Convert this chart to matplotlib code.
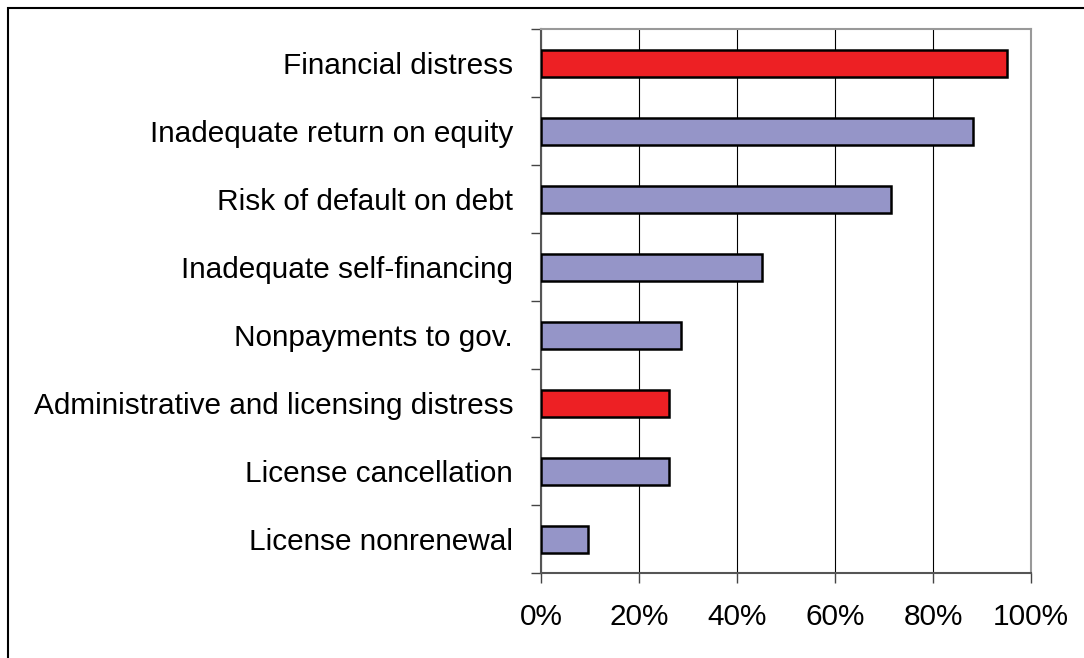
import matplotlib.pyplot as plt
from matplotlib.patches import Rectangle
from matplotlib.ticker import FixedLocator, PercentFormatter

plt.rcParams["font.family"] = ["Liberation Sans", "DejaVu Sans"]

# データ（上から順）
labels = [
    "Financial distress",
    "Inadequate return on equity",
    "Risk of default on debt",
    "Inadequate self-financing",
    "Nonpayments to gov.",
    "Administrative and licensing distress",
    "License cancellation",
    "License nonrenewal",
]
values = [95.2, 88.1, 71.4, 45.2, 28.6, 26.2, 26.2, 9.6]
is_group = [True, False, False, False, False, True, False, False]

red = "#ED2024"
blue = "#9595C8"

fig = plt.figure(figsize=(10.84, 6.58), dpi=100)
ax = fig.add_axes([541 / 1084, 1 - 573.3 / 658, 490 / 1084, 544 / 658])

n = len(labels)
ypos = [n - 1 - i for i in range(n)]
colors = [red if g else blue for g in is_group]
ax.barh(ypos, values, height=0.4, color=colors, edgecolor="black", linewidth=1.8, zorder=3)

ax.set_xlim(0, 100)
ax.set_ylim(-0.5, n - 0.5)
ax.set_xticks(range(0, 101, 20))
ax.xaxis.set_major_formatter(PercentFormatter(decimals=0))
ax.grid(axis="x", color="black", linewidth=0.8, zorder=0)

ax.set_yticks(ypos)
ax.set_yticklabels(labels)
ax.yaxis.set_minor_locator(FixedLocator([k + 0.5 for k in range(-1, n)]))
ax.tick_params(axis="y", which="major", length=0, pad=20, labelsize=21.4)
ax.tick_params(axis="y", which="minor", length=7.5, width=1, color="#444444", direction="out")
ax.tick_params(axis="x", length=7.5, width=1, color="#444444", direction="out", pad=14, labelsize=21.4)

for side in ["top", "right"]:
    ax.spines[side].set_color("#999999")
    ax.spines[side].set_linewidth(1.5)
for side in ["left", "bottom"]:
    ax.spines[side].set_color("#555555")
    ax.spines[side].set_linewidth(1.5)

# 外枠
fig.patches.append(Rectangle((8 / 1084, -0.1), 1.2, 1 - 8 / 658 + 0.1,
                             transform=fig.transFigure, fill=False,
                             edgecolor="black", linewidth=1.5))

fig.savefig("out.png", dpi=100)
